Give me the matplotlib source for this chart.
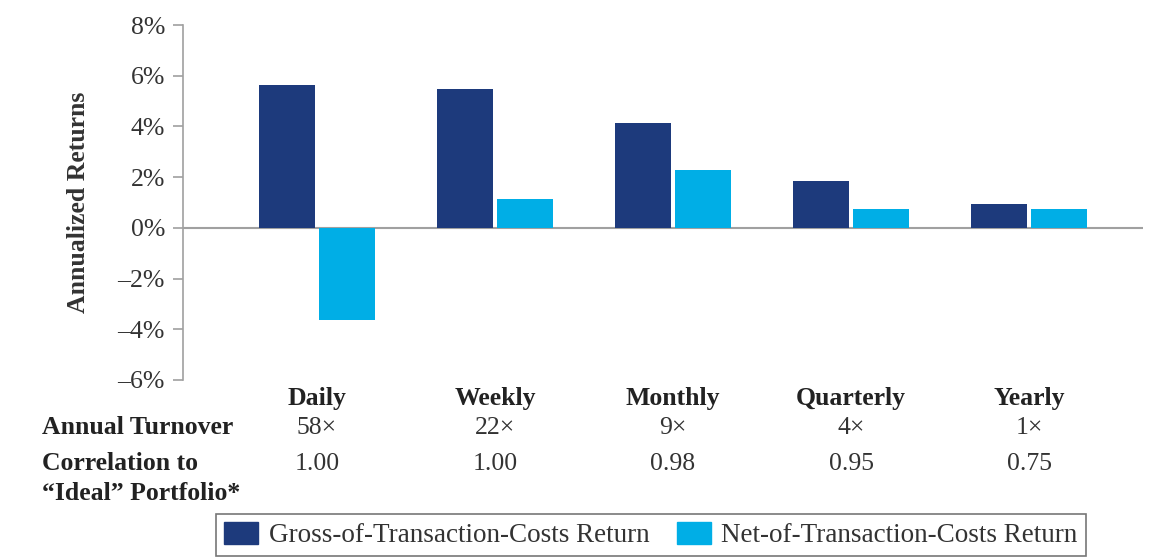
import matplotlib
matplotlib.use("Agg")
import matplotlib.pyplot as plt
import matplotlib.transforms as mtransforms
from matplotlib.patches import Patch
import numpy as np

categories = ["Daily", "Weekly", "Monthly", "Quarterly", "Yearly"]
gross = [5.63, 5.46, 4.12, 1.83, 0.95]
net = [-3.64, 1.13, 2.29, 0.73, 0.73]
turnover = ["58\u00d7", "22\u00d7", "9\u00d7", "4\u00d7", "1\u00d7"]
correlation = ["1.00", "1.00", "0.98", "0.95", "0.75"]
yticks = [-6, -4, -2, 0, 2, 4, 6, 8]
series_names = ["Gross-of-Transaction-Costs Return", "Net-of-Transaction-Costs Return"]

DARK = "#1d3a7c"
LIGHT = "#00aee6"
SERIF = ["Liberation Serif", "DejaVu Serif"]
plt.rcParams["font.family"] = SERIF
FS = 18.5

W, H = 1173, 558
fig = plt.figure(figsize=(W / 100, H / 100), dpi=100)
top_px, bot_px = 25.0, 380.0
ax = fig.add_axes([183 / W, 1 - bot_px / H, (1143 - 183) / W, (bot_px - top_px) / H])

x = np.arange(len(categories))
bw = 0.315
off = 0.17
ax.bar(x - off, gross, width=bw, color=DARK, zorder=3)
ax.bar(x + off, net, width=bw, color=LIGHT, zorder=3)

ax.set_xlim(-0.753, 4.64)
ax.set_ylim(-6, 8)
ax.set_yticks(yticks)
ax.set_yticklabels([("\u2013" if v < 0 else "") + f"{abs(v)}%" for v in yticks],
                   fontsize=FS, color="#333333")
ax.tick_params(axis="y", direction="out", length=7, width=1.2, color="#a0a0a0", pad=6)
ax.set_xticks([])
for s in ["top", "right", "bottom"]:
    ax.spines[s].set_visible(False)
ax.spines["left"].set_color("#a0a0a0")
ax.spines["left"].set_linewidth(1.2)
ax.axhline(0, color="#a0a0a0", lw=1.5, zorder=2)

ax.set_ylabel("Annualized Returns", fontsize=FS, fontweight="bold", color="#333333")
ax.yaxis.set_label_coords(-0.097, 0.5)

trans = mtransforms.blended_transform_factory(ax.transData, fig.transFigure)
for i, c in enumerate(categories):
    ax.text(i, 1 - 398 / H, c, transform=trans, ha="center", va="center",
            fontsize=FS, fontweight="bold", color="#222222")
    ax.text(i, 1 - 428 / H, turnover[i], transform=trans, ha="center", va="center",
            fontsize=FS, color="#333333")
    ax.text(i, 1 - 464 / H, correlation[i], transform=trans, ha="center", va="center",
            fontsize=FS, color="#333333")

fig.text(42 / W, 1 - 428 / H, "Annual Turnover", ha="left", va="center",
         fontsize=FS, fontweight="bold", color="#222222")
fig.text(42 / W, 1 - 464 / H, "Correlation to", ha="left", va="center",
         fontsize=FS, fontweight="bold", color="#222222")
fig.text(42 / W, 1 - 494 / H, "\u201cIdeal\u201d Portfolio*", ha="left", va="center",
         fontsize=FS, fontweight="bold", color="#222222")

handles = [Patch(facecolor=DARK, edgecolor=DARK), Patch(facecolor=LIGHT, edgecolor=LIGHT)]
leg = fig.legend(handles, series_names, loc="center", bbox_to_anchor=(651 / W, 1 - 535 / H),
                 ncol=2, fontsize=19.5, frameon=True, fancybox=False, edgecolor="#555555",
                 handlelength=1.25, handleheight=0.85, handletextpad=0.4, columnspacing=1.0,
                 borderpad=0.3, borderaxespad=0)
leg.get_frame().set_linewidth(1.2)
for t in leg.get_texts():
    t.set_color("#333333")

fig.savefig("out.png", dpi=100, facecolor="white")
